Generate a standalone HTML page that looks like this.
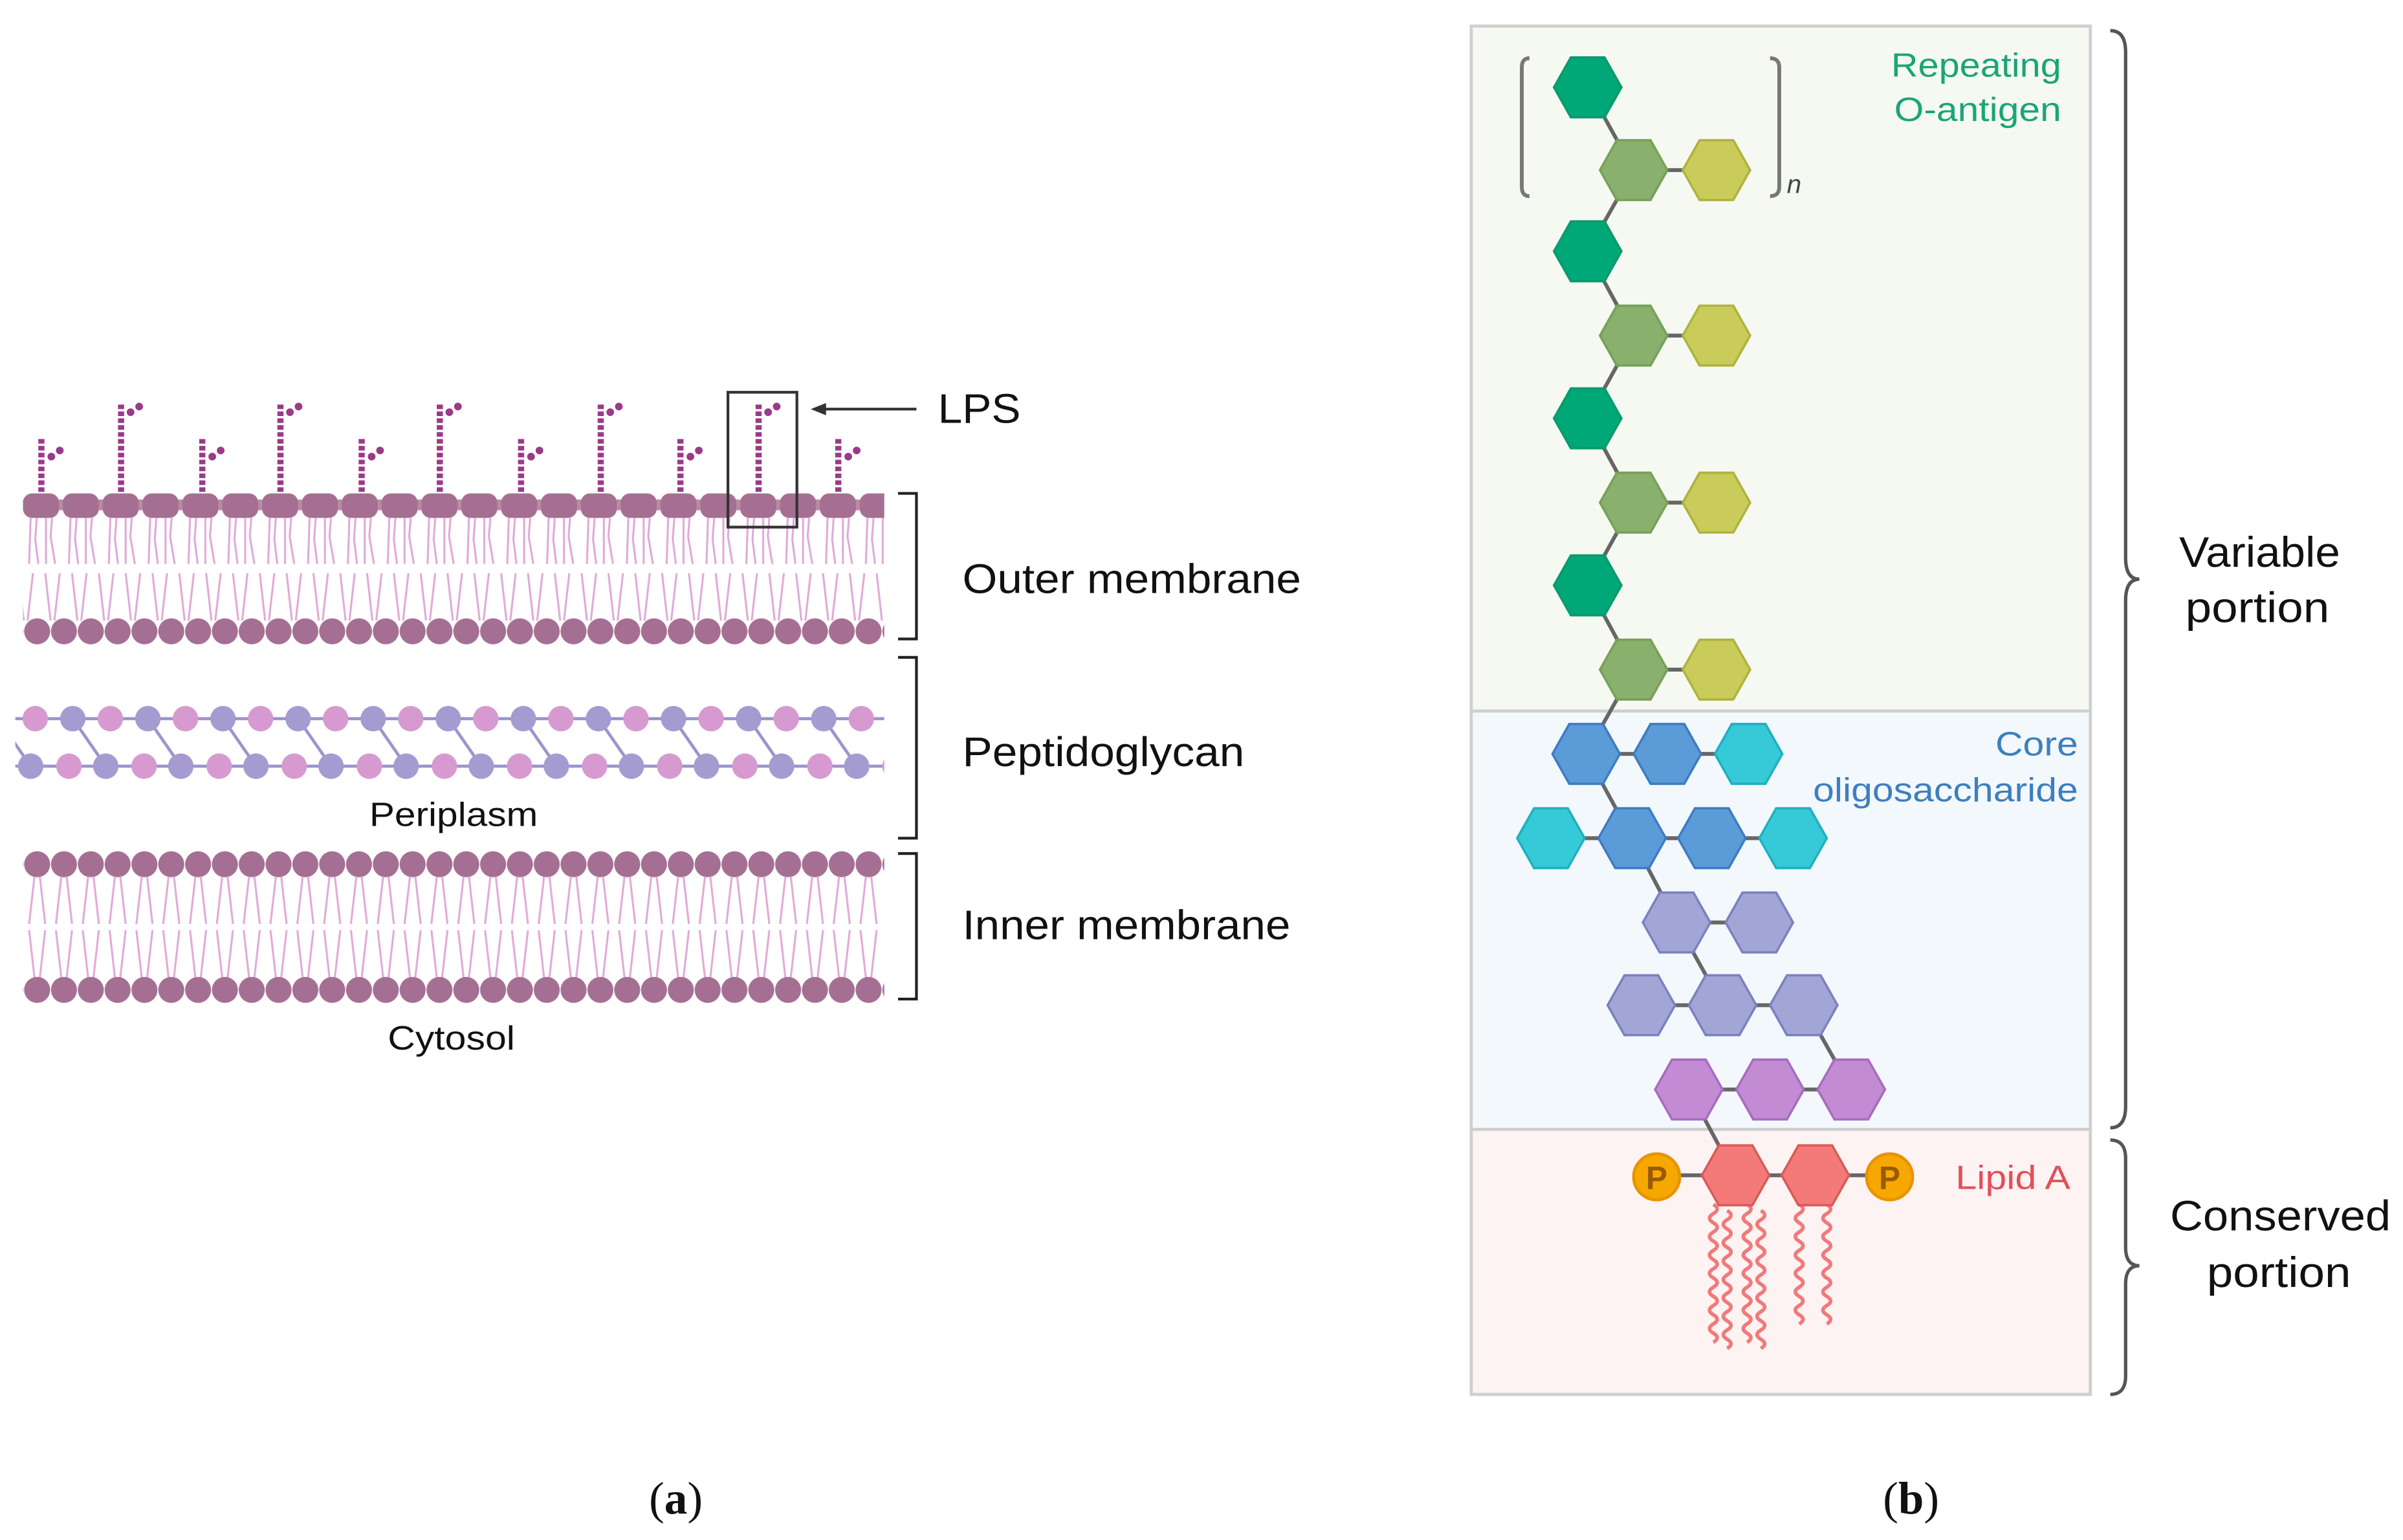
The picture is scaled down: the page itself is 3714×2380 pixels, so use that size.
<!DOCTYPE html>
<html><head><meta charset="utf-8"><style>
html,body{margin:0;padding:0;background:#fff;}
svg{display:block;}
text{font-family:"Liberation Sans",sans-serif;}
</style></head><body>
<svg width="3714" height="2380" viewBox="0 0 1568 1005" preserveAspectRatio="none" xmlns="http://www.w3.org/2000/svg">
<defs>
<polygon id="hx" points="-22,0 -11,-19.5 11,-19.5 22,0 11,19.5 -11,19.5"/>
<pattern id="omHeads" patternUnits="userSpaceOnUse" x="15" y="321" width="26" height="18">
<rect x="0" y="5" width="26" height="7" fill="#b88aa8"/>
<rect x="0" y="1" width="23.5" height="16" rx="6" fill="#a56f93"/>
</pattern>
<pattern id="omTailsUp" patternUnits="userSpaceOnUse" x="15" y="338" width="26" height="32">
<path d="M5,0 L4,30 M9,0 L8,14 L10,30 M15,0 L15,30 M19,0 L18,12 L21,30" stroke="#e2a9d6" stroke-width="1.3" fill="none"/>
</pattern>
<pattern id="vDown" patternUnits="userSpaceOnUse" x="8" y="374" width="17.5" height="32">
<path d="M4,0 L7.5,31 M13.5,0 L10,31" stroke="#e2a9d6" stroke-width="1.3" fill="none"/>
</pattern>
<pattern id="circB" patternUnits="userSpaceOnUse" x="15.5" y="403" width="17.5" height="18">
<circle cx="8.75" cy="9" r="8.5" fill="#a56f93"/>
</pattern>
<pattern id="circI1" patternUnits="userSpaceOnUse" x="15.5" y="555" width="17.5" height="18">
<circle cx="8.75" cy="9" r="8.5" fill="#a56f93"/>
</pattern>
<pattern id="vUp" patternUnits="userSpaceOnUse" x="15.5" y="572" width="17.5" height="32">
<path d="M7,0 L3.5,31 M10.5,0 L14,31" stroke="#e2a9d6" stroke-width="1.3" fill="none"/>
</pattern>
<pattern id="vDown2" patternUnits="userSpaceOnUse" x="15.5" y="607" width="17.5" height="32">
<path d="M3.5,0 L7,31 M14,0 L10.5,31" stroke="#e2a9d6" stroke-width="1.3" fill="none"/>
</pattern>
<pattern id="circI2" patternUnits="userSpaceOnUse" x="15.5" y="637" width="17.5" height="18">
<circle cx="8.75" cy="9" r="8.5" fill="#a56f93"/>
</pattern>
<pattern id="pg" patternUnits="userSpaceOnUse" x="-1.5" y="455" width="49" height="60">
<path d="M0,14 L49,14 M0,45 L49,45 M0,14 L21.5,45" stroke="#9d93cc" stroke-width="2" fill="none"/>
<circle cx="24.5" cy="14" r="8.3" fill="#d69ad0"/>
<circle cx="0" cy="14" r="8.3" fill="#a59bd0"/>
<circle cx="49" cy="14" r="8.3" fill="#a59bd0"/>
<circle cx="21.5" cy="45" r="8.3" fill="#a59bd0"/>
<circle cx="46.5" cy="45" r="8.3" fill="#d69ad0"/>
<circle cx="-2.5" cy="45" r="8.3" fill="#d69ad0"/>
</pattern>
</defs>

<!-- LPS stalks -->
<g stroke="#9a3a88" stroke-width="4" stroke-dasharray="3 1.5" fill="none">
<path d="M27,321 V286"/><path d="M132,321 V286"/><path d="M236,321 V286"/><path d="M340,321 V286"/><path d="M444,321 V286"/><path d="M547,321 V286"/>
<path d="M79,321 V264"/><path d="M183,321 V264"/><path d="M287,321 V264"/><path d="M392,321 V264"/><path d="M495,321 V264"/>
</g>
<g fill="#9a3a88">
<circle cx="33.5" cy="298" r="2.5"/><circle cx="39" cy="294" r="2.5"/>
<circle cx="138.5" cy="298" r="2.5"/><circle cx="144" cy="294" r="2.5"/>
<circle cx="242.5" cy="298" r="2.5"/><circle cx="248" cy="294" r="2.5"/>
<circle cx="346.5" cy="298" r="2.5"/><circle cx="352" cy="294" r="2.5"/>
<circle cx="450.5" cy="298" r="2.5"/><circle cx="456" cy="294" r="2.5"/>
<circle cx="553.5" cy="298" r="2.5"/><circle cx="559" cy="294" r="2.5"/>
<circle cx="85.2" cy="269" r="2.5"/><circle cx="90.8" cy="265.3" r="2.5"/>
<circle cx="189.2" cy="269" r="2.5"/><circle cx="194.8" cy="265.3" r="2.5"/>
<circle cx="293.2" cy="269" r="2.5"/><circle cx="298.8" cy="265.3" r="2.5"/>
<circle cx="398.2" cy="269" r="2.5"/><circle cx="403.8" cy="265.3" r="2.5"/>
<circle cx="501.2" cy="269" r="2.5"/><circle cx="506.8" cy="265.3" r="2.5"/>
</g>
<rect x="15" y="321" width="562" height="18" fill="url(#omHeads)"/>
<rect x="15" y="338" width="562" height="32" fill="url(#omTailsUp)"/>
<rect x="15" y="374" width="562" height="31" fill="url(#vDown)"/>
<rect x="15" y="403" width="562" height="18" fill="url(#circB)"/>
<rect x="475" y="256" width="45" height="88" fill="none" stroke="#333" stroke-width="1.8"/>
<line x1="598" y1="267" x2="536" y2="267" stroke="#333" stroke-width="1.8"/>
<polygon points="529,267 539,263 539,271" fill="#333"/>
<text x="612" y="276" font-size="27" fill="#111" textLength="54" lengthAdjust="spacingAndGlyphs">LPS</text>
<rect x="10" y="455" width="567" height="60" fill="url(#pg)"/>
<text x="241" y="539" font-size="22" fill="#111" textLength="110" lengthAdjust="spacingAndGlyphs">Periplasm</text>
<rect x="15" y="555" width="562" height="18" fill="url(#circI1)"/>
<rect x="15" y="572" width="562" height="31" fill="url(#vUp)"/>
<rect x="15" y="607" width="562" height="31" fill="url(#vDown2)"/>
<rect x="15" y="637" width="562" height="18" fill="url(#circI2)"/>
<text x="253" y="685" font-size="22" fill="#111" textLength="83" lengthAdjust="spacingAndGlyphs">Cytosol</text>
<g stroke="#222" stroke-width="1.8" fill="none">
<path d="M586,322 H598 V417 H586"/>
<path d="M586,429 H598 V547 H586"/>
<path d="M586,557 H598 V652 H586"/>
</g>
<text x="628" y="387" font-size="27" fill="#111" textLength="221" lengthAdjust="spacingAndGlyphs">Outer membrane</text>
<text x="628" y="500" font-size="27" fill="#111" textLength="184" lengthAdjust="spacingAndGlyphs">Peptidoglycan</text>
<text x="628" y="613" font-size="27" fill="#111" textLength="214" lengthAdjust="spacingAndGlyphs">Inner membrane</text>

<!-- RIGHT PANEL -->
<rect x="960" y="17" width="404" height="447" fill="#f6f9f1"/>
<rect x="960" y="464" width="404" height="273" fill="#f3f8fc"/>
<rect x="960" y="737" width="404" height="173" fill="#fdf3f3"/>
<g stroke="#cfcfcf" stroke-width="2" fill="none">
<rect x="960" y="17" width="404" height="893"/>
<line x1="960" y1="464" x2="1364" y2="464"/>
<line x1="960" y1="737" x2="1364" y2="737"/>
</g>
<text x="1234" y="50" font-size="22" fill="#1aa579" textLength="111" lengthAdjust="spacingAndGlyphs">Repeating</text>
<text x="1236" y="79" font-size="22" fill="#1aa579" textLength="109" lengthAdjust="spacingAndGlyphs">O-antigen</text>
<text x="1302" y="493" font-size="22" fill="#3d7fc0" textLength="54" lengthAdjust="spacingAndGlyphs">Core</text>
<text x="1183" y="523" font-size="22" fill="#3d7fc0" textLength="173" lengthAdjust="spacingAndGlyphs">oligosaccharide</text>
<text x="1276" y="776" font-size="22" fill="#e0505a" textLength="75" lengthAdjust="spacingAndGlyphs">Lipid A</text>

<g stroke="#777" stroke-width="2.5" fill="none">
<path d="M998,38 Q993,38 993,44 V122 Q993,128 998,128"/>
<path d="M1155,38 Q1161,38 1161,44 V122 Q1161,128 1155,128"/>
</g>
<text x="1166" y="126" font-size="17" font-style="italic" fill="#444">n</text>

<g stroke="#666" stroke-width="2.5" fill="none">
<path d="M1036,57 L1066,111 L1036,164 L1066,219 L1036,273 L1066,328 L1036,382 L1066,437 L1035,492 L1065,547 L1094,602 L1124,656"/>
<path d="M1066,111 H1120 M1066,219 H1120 M1066,328 H1120 M1066,437 H1120"/>
<path d="M1035,492 H1141 M1012,547 H1170 M1094,602 H1148 M1071,656 H1177 M1177,656 L1208,711 M1102,711 H1208 M1102,711 L1132,767 M1081,767 H1233"/>
</g>

<g fill="#00a878" stroke="#0a9a6e" stroke-width="1.5">
<use href="#hx" x="1036" y="57"/><use href="#hx" x="1036" y="164"/><use href="#hx" x="1036" y="273"/><use href="#hx" x="1036" y="382"/>
</g>
<g fill="#89b06c" stroke="#78a05a" stroke-width="1.5">
<use href="#hx" x="1066" y="111"/><use href="#hx" x="1066" y="219"/><use href="#hx" x="1066" y="328"/><use href="#hx" x="1066" y="437"/>
</g>
<g fill="#c9cc5a" stroke="#b0b240" stroke-width="1.5">
<use href="#hx" x="1120" y="111"/><use href="#hx" x="1120" y="219"/><use href="#hx" x="1120" y="328"/><use href="#hx" x="1120" y="437"/>
</g>
<g fill="#5b9bd8" stroke="#3f7cc0" stroke-width="1.5">
<use href="#hx" x="1035" y="492"/><use href="#hx" x="1088" y="492"/><use href="#hx" x="1065" y="547"/><use href="#hx" x="1117" y="547"/>
</g>
<g fill="#36cad8" stroke="#1fb0bf" stroke-width="1.5">
<use href="#hx" x="1141" y="492"/><use href="#hx" x="1012" y="547"/><use href="#hx" x="1170" y="547"/>
</g>
<g fill="#a2a6d6" stroke="#7c80c0" stroke-width="1.5">
<use href="#hx" x="1094" y="602"/><use href="#hx" x="1148" y="602"/><use href="#hx" x="1071" y="656"/><use href="#hx" x="1124" y="656"/><use href="#hx" x="1177" y="656"/>
</g>
<g fill="#c28bd4" stroke="#a66cc0" stroke-width="1.5">
<use href="#hx" x="1102" y="711"/><use href="#hx" x="1155" y="711"/><use href="#hx" x="1208" y="711"/>
</g>
<g stroke="#f07a7a" stroke-width="2.4" fill="none">
<path d="M1118,786 q5,3 0,6 q-5,3 0,6 q5,3 0,6 q-5,3 0,6 q5,3 0,6 q-5,3 0,6 q5,3 0,6 q-5,3 0,6 q5,3 0,6 q-5,3 0,6 q5,3 0,6 q-5,3 0,6 q5,3 0,6 q-5,3 0,6 q5,3 0,6"/>
<path d="M1127,790 q5,3 0,6 q-5,3 0,6 q5,3 0,6 q-5,3 0,6 q5,3 0,6 q-5,3 0,6 q5,3 0,6 q-5,3 0,6 q5,3 0,6 q-5,3 0,6 q5,3 0,6 q-5,3 0,6 q5,3 0,6 q-5,3 0,6 q5,3 0,6"/>
<path d="M1140,786 q5,3 0,6 q-5,3 0,6 q5,3 0,6 q-5,3 0,6 q5,3 0,6 q-5,3 0,6 q5,3 0,6 q-5,3 0,6 q5,3 0,6 q-5,3 0,6 q5,3 0,6 q-5,3 0,6 q5,3 0,6 q-5,3 0,6 q5,3 0,6"/>
<path d="M1149,790 q5,3 0,6 q-5,3 0,6 q5,3 0,6 q-5,3 0,6 q5,3 0,6 q-5,3 0,6 q5,3 0,6 q-5,3 0,6 q5,3 0,6 q-5,3 0,6 q5,3 0,6 q-5,3 0,6 q5,3 0,6 q-5,3 0,6 q5,3 0,6"/>
<path d="M1174,786 q5,3 0,6 q-5,3 0,6 q5,3 0,6 q-5,3 0,6 q5,3 0,6 q-5,3 0,6 q5,3 0,6 q-5,3 0,6 q5,3 0,6 q-5,3 0,6 q5,3 0,6 q-5,3 0,6 q5,3 0,6"/>
<path d="M1192,786 q5,3 0,6 q-5,3 0,6 q5,3 0,6 q-5,3 0,6 q5,3 0,6 q-5,3 0,6 q5,3 0,6 q-5,3 0,6 q5,3 0,6 q-5,3 0,6 q5,3 0,6 q-5,3 0,6 q5,3 0,6"/>
</g>
<g fill="#f47a7a" stroke="#d85a5a" stroke-width="1.5">
<use href="#hx" x="1132.5" y="767"/><use href="#hx" x="1184.5" y="767"/>
</g>
<g fill="#f7a800" stroke="#e89400" stroke-width="2">
<circle cx="1081" cy="768" r="15"/><circle cx="1233" cy="768" r="15"/>
</g>
<text x="1081" y="776" font-size="21" font-weight="bold" text-anchor="middle" fill="#9a5a00">P</text>
<text x="1233" y="776" font-size="21" font-weight="bold" text-anchor="middle" fill="#9a5a00">P</text>

<g stroke="#555" stroke-width="2.2" fill="none">
<path d="M1377,20 Q1387,20 1387,34 L1387,364 Q1387,378 1396,378 Q1387,378 1387,392 L1387,722 Q1387,736 1377,736"/>
<path d="M1377,744 Q1387,744 1387,756 L1387,814 Q1387,826 1396,826 Q1387,826 1387,838 L1387,898 Q1387,910 1377,910"/>
</g>
<text x="1422" y="370" font-size="28" fill="#111" textLength="105" lengthAdjust="spacingAndGlyphs">Variable</text>
<text x="1426" y="406" font-size="28" fill="#111" textLength="94" lengthAdjust="spacingAndGlyphs">portion</text>
<text x="1416" y="803" font-size="28" fill="#111" textLength="144" lengthAdjust="spacingAndGlyphs">Conserved</text>
<text x="1440" y="840" font-size="28" fill="#111" textLength="94" lengthAdjust="spacingAndGlyphs">portion</text>

<text x="441" y="988" font-size="30" text-anchor="middle" fill="#111" style="font-family:'Liberation Serif',serif">(<tspan font-weight="bold">a</tspan>)</text>
<text x="1247" y="988" font-size="30" text-anchor="middle" fill="#111" style="font-family:'Liberation Serif',serif">(<tspan font-weight="bold">b</tspan>)</text>
</svg>
</body></html>
